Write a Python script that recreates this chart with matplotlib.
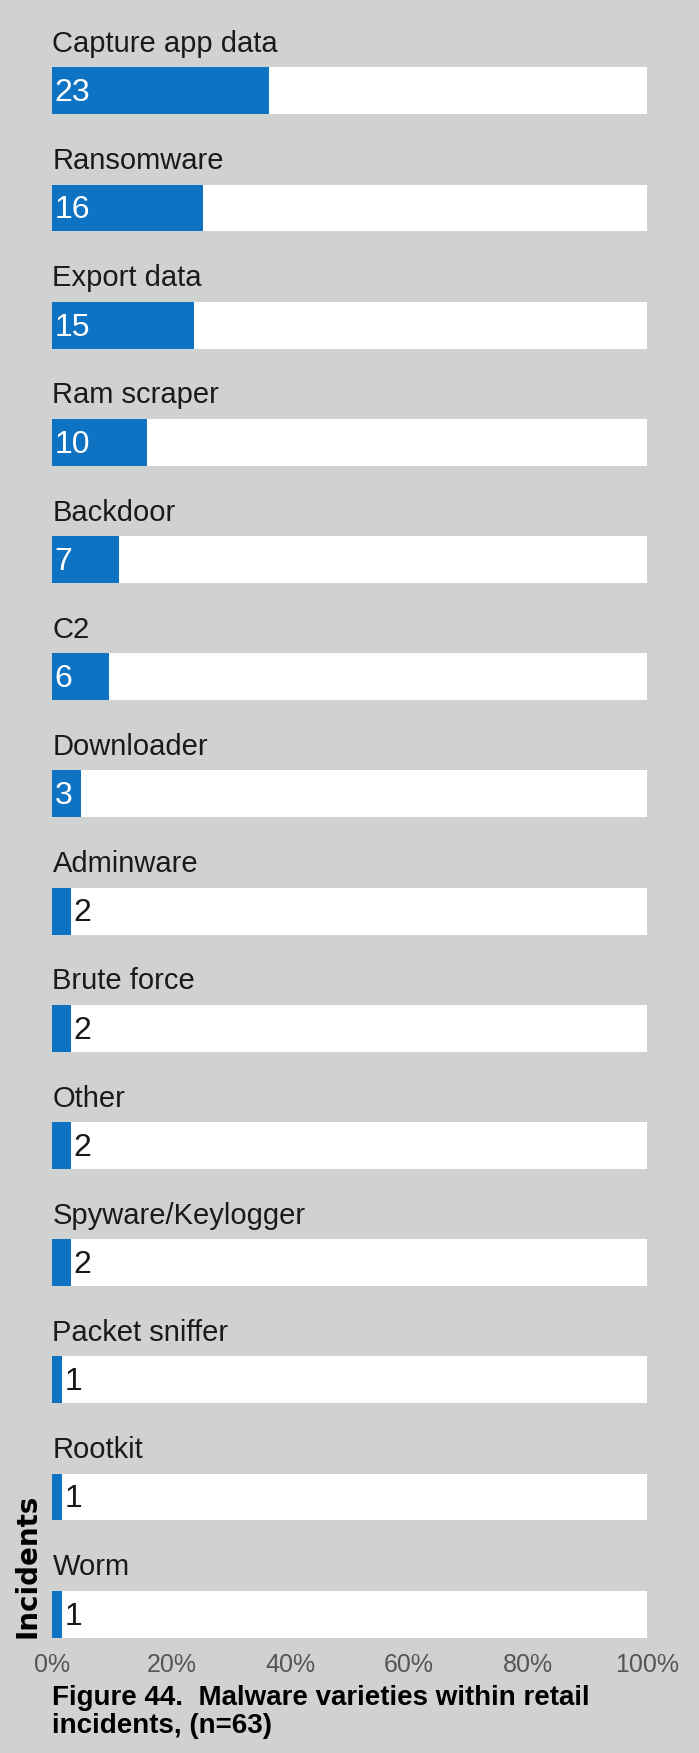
import matplotlib.pyplot as plt

categories = ["Capture app data", "Ransomware", "Export data", "Ram scraper", "Backdoor",
              "C2", "Downloader", "Adminware", "Brute force", "Other",
              "Spyware/Keylogger", "Packet sniffer", "Rootkit", "Worm"]
counts = [23, 16, 15, 10, 7, 6, 3, 2, 2, 2, 2, 1, 1, 1]
n_total = 63
xticks = [0, 20, 40, 60, 80, 100]

bg = "#d0d2d1"
blue = "#0f73c3"
plt.rcParams['font.family'] = ['Liberation Sans', 'DejaVu Sans']

fig = plt.figure(figsize=(6.99, 17.53), dpi=100, facecolor=bg)
ax = fig.add_axes([0.0751, 0.0658, 0.85, 0.934])
ax.set_facecolor(bg)

pct = [c / n_total * 100 for c in counts]
ys = list(range(len(categories)))
h = 0.40

ax.barh(ys, [100] * len(ys), height=h, color="white", left=0)
ax.barh(ys, pct, height=h, color=blue)

for y, cat, c, p in zip(ys, categories, counts, pct):
    ax.text(0, y - 0.40, cat, fontsize=21, color="#1a1a1a", va="center", ha="left")
    if p > 4:
        ax.text(0.4, y + 0.02, str(c), fontsize=23, color="white", va="center", ha="left")
    else:
        ax.text(p + 0.4, y + 0.02, str(c), fontsize=23, color="#1a1a1a", va="center", ha="left")

ax.set_xlim(0, 100)
ax.set_ylim(13.2, -0.772)
ax.set_xticks(xticks)
ax.set_xticklabels([f"{t}%" for t in xticks], fontsize=18, color="#555555")
ax.tick_params(axis="x", length=0, pad=11)
ax.set_yticks([])
for s in ax.spines.values():
    s.set_visible(False)

fig.text(0.04, 0.0658, "Incidents", rotation=90, fontsize=20, fontweight="bold",
         ha="center", va="bottom", color="black", family="DejaVu Sans")

fig.text(52.5, 1753 - 1712, "Figure 44.  Malware varieties within retail\nincidents, (n=63)",
         transform=None, fontsize=20, fontweight="bold", va="center", ha="left",
         linespacing=1.1, color="black")

fig.savefig("out.png", dpi=100, facecolor=bg)
